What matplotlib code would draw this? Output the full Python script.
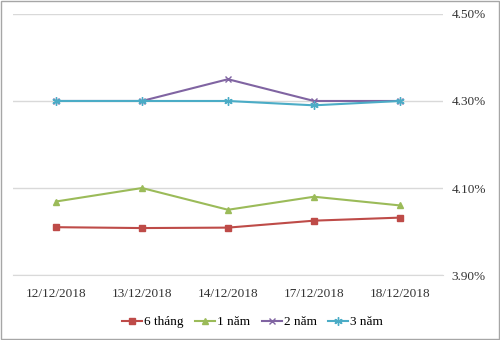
import matplotlib.pyplot as plt
from matplotlib.patches import Rectangle
from matplotlib.ticker import FuncFormatter

plt.rcParams['font.family'] = ['Liberation Serif', 'DejaVu Serif']

dates = ['12/12/2018', '13/12/2018', '14/12/2018', '17/12/2018', '18/12/2018']
six_months = [4.010, 4.008, 4.009, 4.025, 4.032]
one_year = [4.069, 4.100, 4.050, 4.080, 4.060]
two_years = [4.30, 4.30, 4.35, 4.30, 4.30]
three_years = [4.30, 4.30, 4.30, 4.29, 4.30]

fig = plt.figure(figsize=(5, 3.4), dpi=100)
ax = fig.add_axes([0.026, 0.191, 0.86, 0.768])

x = range(len(dates))
ax.plot(x, six_months, color='#BE4B48', lw=1.5, marker='s', ms=5, label='6 tháng')
ax.plot(x, one_year, color='#9BBB59', lw=1.5, marker='^', ms=5, label='1 năm')
ax.plot(x, two_years, color='#8064A2', lw=1.5, marker='x', ms=5, mew=1, label='2 năm')
ax.plot(x, three_years, color='#4BACC6', lw=1.5, marker=(6, 2, 0), ms=6, mew=1, label='3 năm')

ax.set_xlim(-0.5, 4.5)
ax.set_ylim(3.90, 4.50)
ax.set_yticks([3.90, 4.10, 4.30, 4.50])
ax.yaxis.set_major_formatter(FuncFormatter(lambda v, p: f'{v:.2f}%'))
ax.yaxis.tick_right()
ax.set_xticks(list(x))
ax.set_xticklabels(dates)
ax.tick_params(length=0, labelsize=9.5, colors='#333333')
ax.tick_params(axis='y', pad=6)
ax.tick_params(axis='x', pad=9)
ax.grid(axis='y', color='#D9D9D9', lw=1)
ax.set_axisbelow(True)
for s in ax.spines.values():
    s.set_visible(False)
ax.spines['bottom'].set_visible(True)
ax.spines['bottom'].set_color('#D9D9D9')

fig.legend(loc='lower center', ncol=4, bbox_to_anchor=(0.505, 0.0), frameon=False,
           fontsize=9.5, handlelength=1.5, handletextpad=0.15, columnspacing=0.9)

fig.patches.append(Rectangle((0.002, 0.003), 0.995, 0.993, transform=fig.transFigure,
                             fill=False, edgecolor='#A6A6A6', lw=1))

fig.savefig('out.png', dpi=100)
